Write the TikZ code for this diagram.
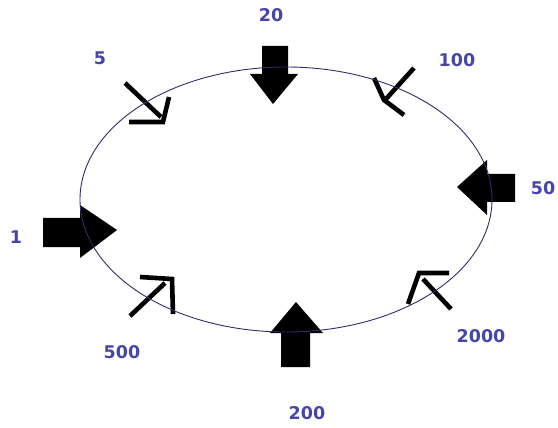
\documentclass[tikz,border=0pt]{standalone}
\usepackage{fontspec}
\newfontfamily\labfont{DejaVu Sans}
\definecolor{labcol}{RGB}{70,70,168}
\definecolor{ringcol}{RGB}{45,45,110}
\begin{document}
\begin{tikzpicture}[x=1pt,y=-1pt,
  lab/.style={text=labcol,font=\labfont\bfseries\fontsize{17.5}{20}\selectfont,inner sep=0pt},
  block/.style={fill=black,draw=none},
  thin/.style={draw=black,line width=4.6pt,miter limit=10}]
\useasboundingbox[fill=white] (0,0) rectangle (558,428);
% block arrows
\fill[block] (43,218) -- (80,218) -- (80,205) -- (117,230) -- (80,258) -- (80,247) -- (43,247) -- cycle;
\fill[block] (262,46) -- (288,46) -- (288,74) -- (298,74) -- (273,104) -- (250,74) -- (262,74) -- cycle;
\fill[block] (515,174) -- (487,174) -- (487,160) -- (457,187) -- (487,215) -- (487,202) -- (515,202) -- cycle;
\fill[block] (281,367) -- (310,367) -- (310,333) -- (323,333) -- (296,302) -- (270,333) -- (281,333) -- cycle;
% thin arrows
\draw[thin] (125,83) -- (161,117);
\draw[thin] (129,122) -- (163,122) -- (169,97);
\draw[thin] (414,68) -- (386,99);
\draw[thin] (374,78) -- (384,100) -- (404,115);
\draw[thin] (130,316) -- (165,283);
\draw[thin] (140,277) -- (172,279) -- (173,314);
\draw[thin] (451,309) -- (423,279);
\draw[thin] (449,273) -- (419,273) -- (408,304);
% ring
\draw[ringcol,line width=0.9pt] (286,199.5) ellipse [x radius=206,y radius=132.5];
% labels
\node[lab] (l20) at (271,15) {20};
\node[lab] (l5) at (100,58) {5};
\node[lab] (l100) at (457,60) {100};
\node[lab] (l50) at (543,188) {50};
\node[lab] (l1) at (16,237) {1};
\node[lab] (l500) at (122,352) {500};
\node[lab] (l2000) at (481,336) {2000};
\node[lab] (l200) at (307,413) {200};
\end{tikzpicture}
\end{document}
